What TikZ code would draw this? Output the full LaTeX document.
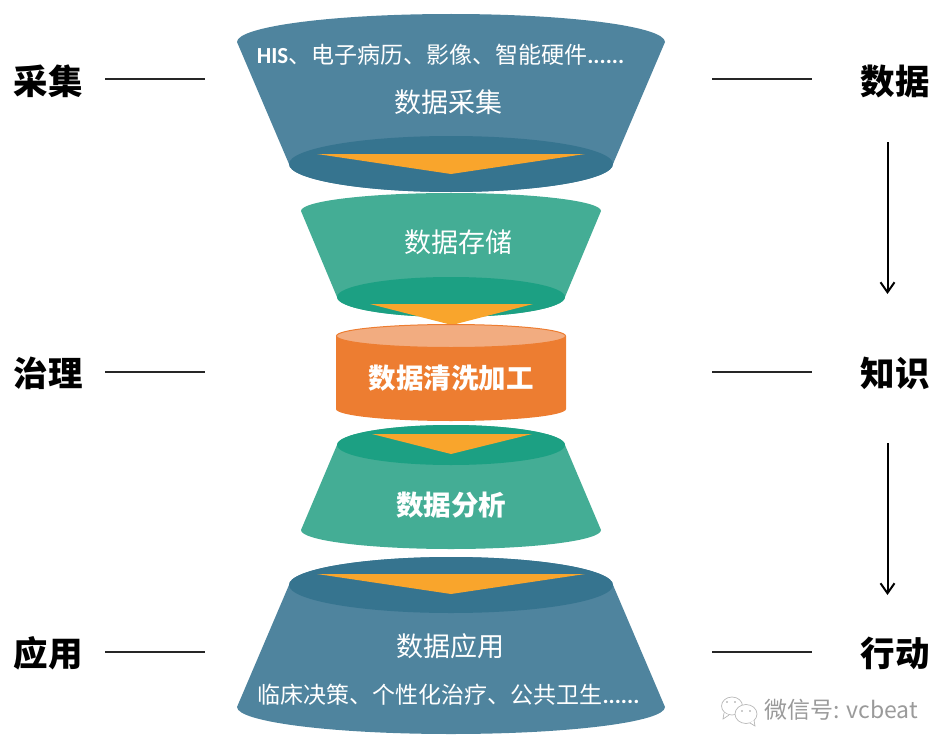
\documentclass[tikz,border=0pt]{standalone}
\usepackage{fontspec}
\setmainfont{Noto Sans CJK SC}
\newfontfamily\latinb[BoldFont=Carlito Bold]{Carlito}
\usetikzlibrary{arrows.meta}
\definecolor{blueside}{HTML}{4F849E}
\definecolor{bluein}{HTML}{36748F}
\definecolor{tealside}{HTML}{44AD95}
\definecolor{tealin}{HTML}{1CA083}
\definecolor{tri}{HTML}{F9A52C}
\definecolor{orangeside}{HTML}{ED7D31}
\definecolor{orangetop}{HTML}{F2AC80}
\definecolor{wm}{HTML}{9A9A9A}
\newcommand{\fs}[1]{\fontsize{#1bp}{#1bp}\selectfont}
\newcommand{\lat}[1]{{\latinb\bfseries #1}}
\tikzset{
  x=1bp,y=-1bp,
  sidelabel/.style={font=\fs{34.5}\bfseries,text=black,inner sep=0pt},
  title/.style={font=\fs{27},text=white,inner sep=0pt},
  titlebold/.style={font=\fs{27.5}\bfseries,text=white,inner sep=0pt},
  sub/.style={font=\fs{23},text=white,inner sep=0pt},
  rule/.style={draw=black!85,line width=1.1pt},
  flow/.style={draw=black,line width=2pt,-{Straight Barb[length=10bp,width=14bp]}},
  bubble/.style={draw=wm!70,line width=0.7pt,fill=white},
}
\newcommand{\frustum}[8]{%
  \fill[#1] ({#2-#3},#4) arc[start angle=180,end angle=0,x radius=#3,y radius=-#5]
    -- ({#2+#6},#7) arc[start angle=0,end angle=-180,x radius=#6,y radius=-#8] -- cycle;}
\begin{document}
\begin{tikzpicture}
\useasboundingbox (0,0) rectangle (947,752);
% data collection
\frustum{blueside}{451}{214}{42}{28}{162}{164}{28}
\fill[bluein] (451,164) ellipse[x radius=162,y radius=28];
\fill[tri] (317,154) -- (585,154) -- (451,174) -- cycle;
\node[sub] (collectsub) at (440.5,55) {\lat{HIS}、电子病历、影像、智能硬件\lat{......}};
\node[title] (collect) at (448,102) {数据采集};
% storage
\frustum{tealside}{451}{150}{211}{18}{114}{297}{20}
\fill[tealin] (451,297) ellipse[x radius=114,y radius=20];
\fill[tri] (370,304) -- (533,304) -- (452,325) -- cycle;
\node[title] (store) at (458,242) {数据存储};
% cleaning
\fill[orangeside] (336,336) -- (566,336) -- (566,409) arc[start angle=0,end angle=-180,x radius=115,y radius=-12] -- cycle;
\fill[orangetop,draw=orangeside,line width=1pt] (451,336) ellipse[x radius=114.5,y radius=11.5];
\node[titlebold] (clean) at (451,378) {数据清洗加工};
% analysis
\frustum{tealside}{451}{114}{445}{20}{150}{530}{19}
\fill[tealin] (451,445) ellipse[x radius=114,y radius=20];
\fill[tri] (372,434) -- (532,434) -- (451,454) -- cycle;
\node[titlebold] (analyse) at (451,505) {数据分析};
% application
\frustum{blueside}{451}{162}{585}{28}{214}{707}{27}
\fill[bluein] (451,585) ellipse[x radius=162,y radius=28];
\fill[tri] (317,574) -- (585,574) -- (451,594) -- cycle;
\node[title] (apply) at (450,646) {数据应用};
\node[sub] (applysub) at (448.5,695) {临床决策、个性化治疗、公共卫生\lat{......}};
% side labels
\node[sidelabel] (l1) at (48,81) {采集};
\node[sidelabel] (l2) at (48,373) {治理};
\node[sidelabel] (l3) at (48,653) {应用};
\node[sidelabel] (r1) at (895,81) {数据};
\node[sidelabel] (r2) at (895,373) {知识};
\node[sidelabel] (r3) at (895,653) {行动};
% rules
\coordinate (a1) at (105,79); \coordinate (b1) at (205,79);
\coordinate (a2) at (105,372); \coordinate (b2) at (205,372);
\coordinate (a3) at (105,652); \coordinate (b3) at (205,652);
\coordinate (c1) at (712,79); \coordinate (d1) at (812,79);
\coordinate (c2) at (712,372); \coordinate (d2) at (812,372);
\coordinate (c3) at (712,652); \coordinate (d3) at (812,652);
\draw[rule] (a1) -- (b1); \draw[rule] (a2) -- (b2); \draw[rule] (a3) -- (b3);
\draw[rule] (c1) -- (d1); \draw[rule] (c2) -- (d2); \draw[rule] (c3) -- (d3);
% arrows
\coordinate (e1) at (887.5,142); \coordinate (f1) at (887.5,294);
\coordinate (e2) at (887.5,443); \coordinate (f2) at (887.5,595);
\draw[flow] (e1) -- (f1);
\draw[flow] (e2) -- (f2);
% watermark
\draw[bubble] (732,706) ellipse[x radius=10.5,y radius=9];
\draw[bubble] (724,713) -- (723,719) -- (729,715);
\draw[bubble] (746,714) ellipse[x radius=11,y radius=9.5];
\draw[bubble] (750,723) -- (755,726) -- (754,720);
\fill[wm] (727,702) circle[radius=0.9] (735,702) circle[radius=0.9] (742,711) circle[radius=0.9] (750,711) circle[radius=0.9];
\node[font=\fs{23},text=wm,inner sep=0pt] (mark) at (841,710) {微信号: vcbeat};
\end{tikzpicture}
\end{document}
